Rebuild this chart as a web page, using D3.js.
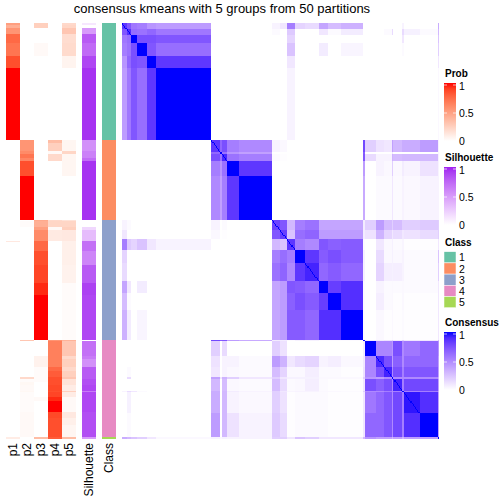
<!DOCTYPE html>
<html><head><meta charset="utf-8">
<script src="https://cdn.jsdelivr.net/npm/d3@7"></script>
<style>html,body{margin:0;padding:0;background:#fff}svg{display:block}text{font-family:"Liberation Sans",Arial,sans-serif;fill:#000}</style>
</head><body><div id="c"></div>
<script>
const titleText = "consensus kmeans with 5 groups from 50 partitions";
const classColors = ["#66C2A5","#FC8D62","#8DA0CB","#E78AC3","#A6D854"];
const classLabels = ["1","2","3","4","5"];
const annotColumns = ["p1","p2","p3","p4","p5"];

// sample counts of the runs in the row annotations
const annotRuns = [1,2,4,6,9,8,48, 2,5,2,3,2,10,29, 1,4,2,7,1,6,9,12,8,30, 1,10,2,5,3,4,1,2,2,4,1,3,3,7,4,5,8, 1];
const annotClass = [0,0,0,0,0,0,0, 1,1,1,1,1,1,1, 2,2,2,2,2,2,2,2,2,2, 3,3,3,3,3,3,3,3,3,3,3,3,3,3,3,3,3, 4];
const p1 = [.5,.42,.55,.75,.7,.85,1, 0,0,0,0,0,0,0, 0,0,0,0,.12,0,0,0,0,0, 0,0,0,0,0,0,0,0,0,0,0,0,0,0,0,0,0, .1];
const p2 = [0,0,0,0,0,0,0, .55,.55,.6,.7,.62,.85,1, 0,.02,0,0,0,0,0,0,0,0, .3,0,0,0,0,0,.2,.02,.04,.03,.04,.02,.02,.02,.03,.03,.03, 0];
const p3 = [.25,.25,0,0,.03,0,0, 0,0,0,0,0,0,0, .45,.42,.5,.6,.75,.75,.85,.88,.95,1, 0,0,.07,.07,.02,.02,.02,.02,0,0,0,0,.03,0,0,0,0, .35];
const p4 = [0,0,0,0,0,0,0, .35,.25,.03,.2,.2,0,0, .2,.22,.03,.11,0,0,0,0,0,0, .55,.65,.65,.65,.75,.8,.85,.85,.85,.87,.85,.88,.95,1,.87,.85,.85, .8];
const p5 = [.2,.22,.3,.18,.19,.06,0, .05,.05,.22,.05,.05,.05,0, .15,.22,.25,.12,.08,.08,.08,.07,.02,.02, .4,.3,.2,.25,.2,.25,.3,.15,.15,.1,.25,.1,.03,.03,.12,.08,.05, .35];
const silhouette = [.12,0,.5,.8,.73,.88,.95, .55,.55,.62,.62,.72,.95,.95, 0,0,.2,.33,.7,.7,.6,.8,.9,.88, 0,.7,.65,.55,.8,.8,.8,.85,.85,.88,.65,.88,.88,.88,.85,.85,.85, .5];

// sample counts of the consensus blocks, class by class
const blocks1 = [4,4,5,9,8,48];
const blocks2 = [8,1,5,10,29];
const blocks3 = [7,6,7,9,12,8,11,20];
const blocks4 = [1,10,7,7,1,8,1,14,16];
const blocks5 = [1];

// consensus between blocks, within a class
const within1 = [
 [.85,.72,.58,.55,.45,.42],
 [.72,.88,.62,.6,.65,.58],
 [.58,.62,1,.75,.75,.72],
 [.55,.6,.75,1,.72,.62],
 [.45,.65,.75,.72,1,.85],
 [.42,.58,.72,.62,.85,1]];
const within2 = [
 [.85,.65,.75,.55,.5],
 [.65,.95,.6,.45,.4],
 [.75,.6,.9,.6,.55],
 [.55,.45,.6,1,.85],
 [.5,.4,.55,.85,1]];
const within3 = [
 [.8,.72,.3,.55,.6,.38,.38,.38],
 [.72,.82,.25,.62,.66,.42,.42,.42],
 [.3,.25,.85,.55,.5,.72,.68,.7],
 [.55,.62,.55,1,.85,.7,.75,.7],
 [.6,.66,.5,.85,.92,.65,.7,.65],
 [.38,.42,.72,.7,.65,1,.82,.88],
 [.38,.42,.68,.75,.7,.82,1,.88],
 [.38,.42,.7,.7,.65,.88,.88,1]];
const within4 = [
 [1,.08,.1,.12,.2,.1,.2,.1,.1],
 [.08,1,.52,.52,.45,.75,.5,.58,.65],
 [.1,.52,.9,.75,.42,.68,.5,.65,.65],
 [.12,.52,.75,.92,.5,.75,.55,.72,.72],
 [.2,.45,.42,.5,.9,.5,.5,.5,.5],
 [.1,.75,.68,.75,.5,.92,.55,.78,.78],
 [.2,.5,.5,.55,.5,.55,.9,.55,.55],
 [.1,.58,.65,.72,.5,.78,.55,.96,.88],
 [.1,.65,.65,.72,.5,.78,.55,.88,1]];
const within5 = [[1]];

// consensus between blocks of different classes
const cross13 = [
 [.05,.1,.55,.18,.15,.38,.28,.33],
 [.02,0,.22,0,0,.1,.02,.08],
 [0,0,.18,0,0,0,0,0],
 [0,0,.25,0,0,.08,0,.04],
 [0,0,.1,0,0,0,0,0],
 [0,0,.05,0,0,0,0,0]];
const cross14 = [
 [0,0,0,0,0,0,.05,0,0],
 [0,0,0,.02,.15,0,.15,.06,.02],
 [0,0,0,0,0,0,.1,0,0],
 [0,0,0,0,0,0,.02,0,0],
 [0,0,0,0,0,0,0,0,0],
 [0,0,0,0,0,0,0,0,0]];
const cross15 = [[.35],[.3],[.25],[.2],[.1],[.03]];
const cross23 = [
 [.05,.03,0,0,0,0,0,0],
 [0,0,0,0,0,0,0,0],
 [.02,.01,0,0,0,0,0,0],
 [0,0,0,0,0,0,0,0],
 [0,0,0,0,0,0,0,0]];
const cross24 = [
 [.78,.2,.12,.1,.4,.3,.35,.35,.42],
 [.7,0,0,0,.1,0,0,0,0],
 [.72,.15,.05,.05,.32,.28,.3,.3,.3],
 [.42,0,.05,.03,.2,.03,.08,.05,.12],
 [.36,0,.02,.02,.1,.02,.05,.03,.05]];
const cross25 = [[.06],[.03],[.06],[.05],[.05]];
const cross34 = [
 [.08,.2,.42,.28,.2,.28,.2,.2,.22],
 [.08,.12,.32,.18,.1,.15,.1,.12,.15],
 [.02,0,.1,.03,.06,.02,.04,.01,.01],
 [.06,0,.15,.03,.06,.03,.05,.02,.02],
 [.06,0,.18,.07,.06,.07,.05,.02,.02],
 [.02,0,.05,.02,.03,.02,.03,.02,.02],
 [.02,0,.07,.02,.03,.01,.03,.01,.01],
 [.02,0,.03,.01,.03,.01,.02,.01,.01]];
const cross35 = [[.2],[.2],[.1],[.25],[.2],[.1],[.1],[.1]];
const cross45 = [[.3],[.45],[.4],[.4],[.3],[.4],[.3],[.4],[.4]];

const legendTicks = [0,0.5,1];

// ---------- assembly ----------
const blockLists = [blocks1,blocks2,blocks3,blocks4,blocks5];
const withinLists = [within1,within2,within3,within4,within5];
const crossLists = {"0-2":cross13,"0-3":cross14,"0-4":cross15,"1-2":cross23,"1-3":cross24,"1-4":cross25,"2-3":cross34,"2-4":cross35,"3-4":cross45};
const allBlocks = [];
let cum = 0;
blockLists.forEach((list,c)=>list.forEach((n,k)=>{allBlocks.push({c,k,start:cum,n});cum+=n;}));
const N = cum;
function consensusValue(a,b){
  if(a.c===b.c) return withinLists[a.c][a.k][b.k];
  const lo=a.c<b.c?a:b, hi=a.c<b.c?b:a;
  const t=crossLists[lo.c+"-"+hi.c];
  return t?t[lo.k][hi.k]:0;
}
const width=504,height=504;
const svg=d3.select("#c").append("svg").attr("width",width).attr("height",height);
const xMat=d3.scaleLinear().domain([0,N]).range([122,439]);
const yMat=d3.scaleLinear().domain([0,N]).range([23,439]);
const probColor=d3.scaleLinear().domain([0,1]).range(["#ffffff","#ff0000"]).interpolate(d3.interpolateLab);
const silColor=d3.scaleLinear().domain([0,1]).range(["#ffffff","#a020f0"]).interpolate(d3.interpolateLab);
const consColor=d3.scaleLinear().domain([0,1]).range(["#ffffff","#0000ff"]).interpolate(d3.interpolateLab);

svg.append("text").attr("x",222).attr("y",12.5).attr("text-anchor","middle").attr("font-size",13).text(titleText);

// consensus matrix
const gm=svg.append("g").attr("shape-rendering","crispEdges");
const cells=[];
allBlocks.forEach(a=>allBlocks.forEach(b=>{
  const v=consensusValue(a,b);
  if(v>0) cells.push({r:a.start,rn:a.n,c:b.start,cn:b.n,v});
}));
d3.range(N).forEach(i=>cells.push({r:i,rn:1,c:i,cn:1,v:1}));
gm.selectAll("rect").data(cells).join("rect")
  .attr("x",d=>xMat(d.c)).attr("y",d=>yMat(d.r))
  .attr("width",d=>xMat(d.c+d.cn)-xMat(d.c)).attr("height",d=>yMat(d.r+d.rn)-yMat(d.r))
  .attr("fill",d=>consColor(d.v));

// annotation columns
const runs=[];let pos=0;
annotRuns.forEach((n,i)=>{runs.push({i,start:pos,n});pos+=n;});
const xAnn=d3.scaleBand().domain(annotColumns).range([5.5,76]).paddingInner(0.0);
const annSeries={p1,p2,p3,p4,p5};
const ga=svg.append("g").attr("shape-rendering","crispEdges");
annotColumns.forEach(name=>{
  ga.append("g").selectAll("rect").data(runs).join("rect")
    .attr("x",xAnn(name)).attr("width",xAnn.bandwidth())
    .attr("y",d=>yMat(d.start)).attr("height",d=>yMat(d.start+d.n)-yMat(d.start))
    .attr("fill",d=>probColor(annSeries[name][d.i]));
});
ga.append("g").selectAll("rect").data(runs).join("rect")
  .attr("x",82).attr("width",14)
  .attr("y",d=>yMat(d.start)).attr("height",d=>yMat(d.start+d.n)-yMat(d.start))
  .attr("fill",d=>silColor(silhouette[d.i]));
ga.append("g").selectAll("rect").data(runs).join("rect")
  .attr("x",102).attr("width",14)
  .attr("y",d=>yMat(d.start)).attr("height",d=>yMat(d.start+d.n)-yMat(d.start))
  .attr("fill",d=>classColors[annotClass[d.i]]);

// column labels
function colLabel(t,x){
  svg.append("text").attr("transform",`translate(${x},443) rotate(-90)`)
    .attr("text-anchor","end").attr("dominant-baseline","central").attr("font-size",12).text(t);
}
annotColumns.forEach(n=>colLabel(n,xAnn(n)+xAnn.bandwidth()/2));
colLabel("Silhouette",89);
colLabel("Class",109);

// legends
const defs=svg.append("defs");
function ramp(id,title,titleY,top,scale){
  const lg=defs.append("linearGradient").attr("id",id).attr("x1",0).attr("x2",0).attr("y1",1).attr("y2",0);
  d3.range(0,1.001,0.1).forEach(t=>lg.append("stop").attr("offset",t).attr("stop-color",scale(t)));
  svg.append("text").attr("x",445).attr("y",titleY).attr("font-size",10).attr("font-weight","bold").text(title);
  svg.append("rect").attr("x",444).attr("y",top).attr("width",12).attr("height",58).attr("fill",`url(#${id})`);
  const y=d3.scaleLinear().domain([0,1]).range([top+58,top+2]);
  legendTicks.forEach(t=>{
    if(t>0){
      svg.append("line").attr("x1",444).attr("x2",447).attr("y1",y(t)).attr("y2",y(t)).attr("stroke","#fff").attr("stroke-width",0.7);
      svg.append("line").attr("x1",453).attr("x2",456).attr("y1",y(t)).attr("y2",y(t)).attr("stroke","#fff").attr("stroke-width",0.7);
    }
    const lab=d3.format("")(t);
    svg.append("text").attr("x",459).attr("y",y(t)+(t===1?5:t===0?3.5:4)).attr("font-size",10.5).text(lab);
  });
}
ramp("gProb","Prob",77,83,probColor);
ramp("gSil","Silhouette",161,167,silColor);
ramp("gCons","Consensus",326,332,consColor);

svg.append("text").attr("x",445).attr("y",245.5).attr("font-size",10).attr("font-weight","bold").text("Class");
const ySw=d3.scaleBand().domain(classLabels).range([251.7,307.7]);
svg.append("g").selectAll("rect").data(classLabels).join("rect")
  .attr("x",444).attr("width",12).attr("y",d=>ySw(d)).attr("height",ySw.bandwidth())
  .attr("fill",(d,i)=>classColors[i]).attr("stroke","#fff").attr("stroke-width",0.5);
svg.append("g").selectAll("text").data(classLabels).join("text")
  .attr("x",459).attr("y",d=>ySw(d)+ySw.bandwidth()/2+4).attr("font-size",10.5).text(d=>d);
</script></body></html>
